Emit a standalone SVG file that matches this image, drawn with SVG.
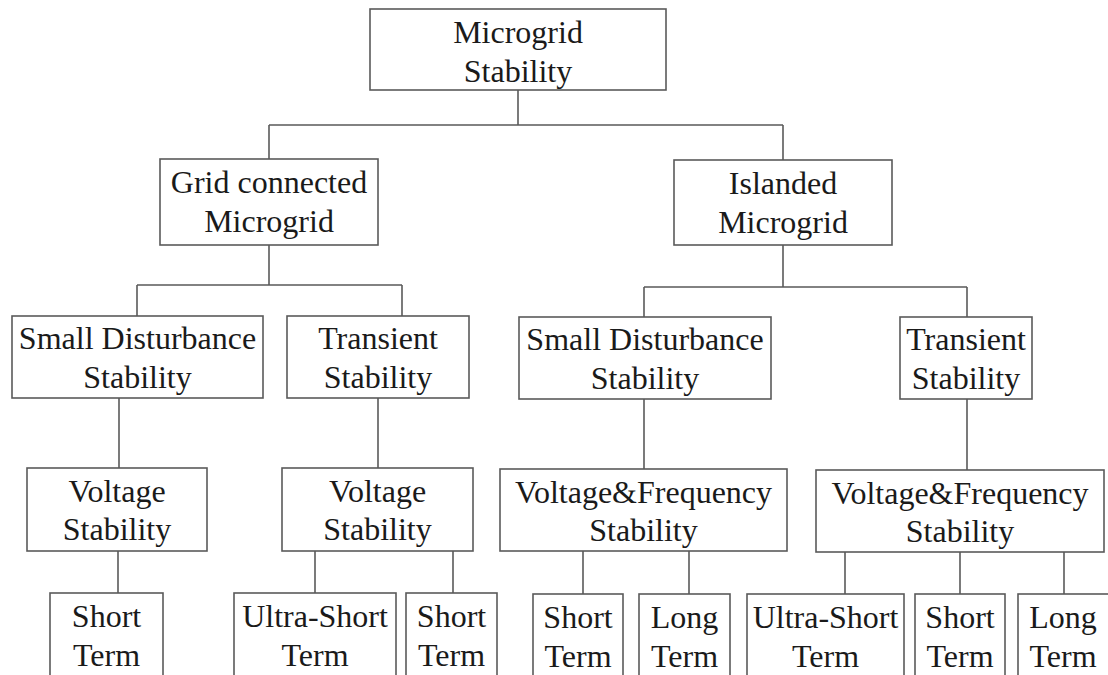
<svg xmlns="http://www.w3.org/2000/svg" width="1108" height="675" viewBox="0 0 1108 675">
  <style>
    .box { fill: #ffffff; stroke: #5a5a5a; stroke-width: 1.6; }
    .link { fill: none; stroke: #5a5a5a; stroke-width: 1.6; }
    .lbl { font-family: "Liberation Serif", "Times New Roman", serif; font-size: 32px; fill: #1a1a1a; text-anchor: middle; }
  </style>
  <rect x="0" y="0" width="1108" height="675" fill="#ffffff"/>

  <!-- tree connectors -->
  <g id="connectors">
    <path class="link" d="M518 90 V125 M269 125 H783 M269 125 V159 M783 125 V160"/>
    <path class="link" d="M269 245 V285 M137 285 H402 M137 285 V316 M402 285 V316"/>
    <path class="link" d="M783 245 V287 M644 287 H967 M644 287 V317 M967 287 V317"/>
    <path class="link" d="M119 398 V468 M378 398 V468 M644 399 V469 M967 399 V470"/>
    <path class="link" d="M118 551 V593 M315 551 V593 M453 551 V593"/>
    <path class="link" d="M583 551 V594 M689 551 V594"/>
    <path class="link" d="M845 552 V594 M960 552 V594 M1064 552 V594"/>
  </g>

  <g id="microgrid-stability">
    <rect class="box" x="370" y="9" width="296" height="81"/>
    <text class="lbl" x="518" y="43">Microgrid</text>
    <text class="lbl" x="518" y="82">Stability</text>
  </g>

  <g id="grid-connected">
    <rect class="box" x="160" y="159" width="218" height="86"/>
    <text class="lbl" x="269" y="193">Grid connected</text>
    <text class="lbl" x="269" y="232">Microgrid</text>
  </g>

  <g id="islanded">
    <rect class="box" x="674" y="160" width="218" height="85"/>
    <text class="lbl" x="783" y="194">Islanded</text>
    <text class="lbl" x="783" y="233">Microgrid</text>
  </g>

  <g id="gc-small-disturbance">
    <rect class="box" x="12" y="316" width="251" height="82"/>
    <text class="lbl" x="137.5" y="349">Small Disturbance</text>
    <text class="lbl" x="137.5" y="388">Stability</text>
  </g>

  <g id="gc-transient">
    <rect class="box" x="287" y="316" width="182" height="82"/>
    <text class="lbl" x="378" y="349">Transient</text>
    <text class="lbl" x="378" y="388">Stability</text>
  </g>

  <g id="is-small-disturbance">
    <rect class="box" x="519" y="317" width="252" height="82"/>
    <text class="lbl" x="645" y="350">Small Disturbance</text>
    <text class="lbl" x="645" y="389">Stability</text>
  </g>

  <g id="is-transient">
    <rect class="box" x="900" y="317" width="132" height="82"/>
    <text class="lbl" x="966" y="350">Transient</text>
    <text class="lbl" x="966" y="389">Stability</text>
  </g>

  <g id="gc-sd-voltage">
    <rect class="box" x="27" y="468" width="180" height="83"/>
    <text class="lbl" x="117" y="502">Voltage</text>
    <text class="lbl" x="117" y="540">Stability</text>
  </g>

  <g id="gc-tr-voltage">
    <rect class="box" x="282" y="468" width="191" height="83"/>
    <text class="lbl" x="377.5" y="502">Voltage</text>
    <text class="lbl" x="377.5" y="540">Stability</text>
  </g>

  <g id="is-sd-vf">
    <rect class="box" x="500" y="469" width="287" height="82"/>
    <text class="lbl" x="643.5" y="503">Voltage&amp;Frequency</text>
    <text class="lbl" x="643.5" y="541">Stability</text>
  </g>

  <g id="is-tr-vf">
    <rect class="box" x="816" y="470" width="288" height="82"/>
    <text class="lbl" x="960" y="504">Voltage&amp;Frequency</text>
    <text class="lbl" x="960" y="542">Stability</text>
  </g>

  <g id="gc-sd-short">
    <rect class="box" x="50" y="593" width="113" height="90"/>
    <text class="lbl" x="106.5" y="627">Short</text>
    <text class="lbl" x="106.5" y="666">Term</text>
  </g>

  <g id="gc-tr-ultra-short">
    <rect class="box" x="234" y="593" width="162" height="90"/>
    <text class="lbl" x="315" y="627">Ultra-Short</text>
    <text class="lbl" x="315" y="666">Term</text>
  </g>

  <g id="gc-tr-short">
    <rect class="box" x="406" y="593" width="91" height="90"/>
    <text class="lbl" x="451.5" y="627">Short</text>
    <text class="lbl" x="451.5" y="666">Term</text>
  </g>

  <g id="is-sd-short">
    <rect class="box" x="533" y="594" width="90" height="90"/>
    <text class="lbl" x="578" y="628">Short</text>
    <text class="lbl" x="578" y="667">Term</text>
  </g>

  <g id="is-sd-long">
    <rect class="box" x="639" y="594" width="91" height="90"/>
    <text class="lbl" x="684.5" y="628">Long</text>
    <text class="lbl" x="684.5" y="667">Term</text>
  </g>

  <g id="is-tr-ultra-short">
    <rect class="box" x="747" y="594" width="157" height="90"/>
    <text class="lbl" x="825.5" y="628">Ultra-Short</text>
    <text class="lbl" x="825.5" y="667">Term</text>
  </g>

  <g id="is-tr-short">
    <rect class="box" x="915" y="594" width="90" height="90"/>
    <text class="lbl" x="960" y="628">Short</text>
    <text class="lbl" x="960" y="667">Term</text>
  </g>

  <g id="is-tr-long">
    <rect class="box" x="1018" y="594" width="94" height="90"/>
    <text class="lbl" x="1063" y="628">Long</text>
    <text class="lbl" x="1063" y="667">Term</text>
  </g>
</svg>
